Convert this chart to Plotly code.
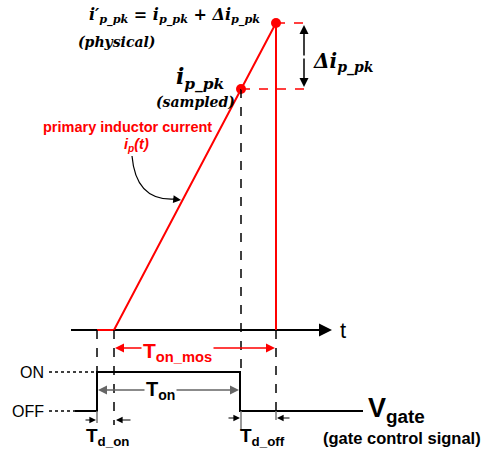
import plotly.graph_objects as go

# ---- data (time in diagram units, levels in diagram units) ----
t_axis = [71, 322]                    # time axis extent
axis_level = 122                      # current zero / time axis level
t_ip = [97, 114, 276, 276]            # primary inductor current waveform times
ip_vals = [122, 122, 429, 122]        # current values
t_sample = [241]                      # sampling instant
ip_sampled = [363]                    # sampled peak
t_peak = [276]
ip_peak = [429]                       # physical peak

t_gate = [75, 97, 97, 240, 240, 363]  # gate control signal
gate_vals = [41, 41, 80, 80, 41, 41]
ON_LEVEL, OFF_LEVEL = 80, 41
t_marks = [97, 114, 241, 276]         # Td_on start/end, Td_off start/end

RED = "#ff0000"
SANS = "Liberation Sans, Arial, sans-serif"
SERIF = "DejaVu Serif"

fig = go.Figure()

# inductor current
fig.add_trace(go.Scatter(x=t_ip, y=ip_vals, mode="lines",
                         line=dict(color=RED, width=2), hoverinfo="skip"))
# gate signal
fig.add_trace(go.Scatter(x=t_gate, y=gate_vals, mode="lines",
                         line=dict(color="black", width=2), hoverinfo="skip"))
# peak points
fig.add_trace(go.Scatter(x=t_sample + t_peak, y=ip_sampled + ip_peak, mode="markers",
                         marker=dict(color=RED, size=10), hoverinfo="skip"))

shapes = []
# time axis line
shapes.append(dict(type="line", x0=t_axis[0], x1=t_axis[1], y0=axis_level, y1=axis_level,
                   line=dict(color="black", width=2), layer="below"))
# dashed verticals
dash = dict(color="black", width=1.5, dash="dash")
shapes.append(dict(type="line", x0=t_marks[0], x1=t_marks[0], y0=axis_level, y1=ON_LEVEL, line=dash))
shapes.append(dict(type="line", x0=t_marks[0], x1=t_marks[0], y0=OFF_LEVEL, y1=29, line=dict(color="#777", width=1.5)))
shapes.append(dict(type="line", x0=t_marks[1], x1=t_marks[1], y0=axis_level, y1=27, line=dash))
shapes.append(dict(type="line", x0=t_marks[2], x1=t_marks[2], y0=ip_sampled[0], y1=ON_LEVEL, line=dash))
shapes.append(dict(type="line", x0=t_marks[2], x1=t_marks[2], y0=OFF_LEVEL, y1=22, line=dict(color="#777", width=1.5)))
shapes.append(dict(type="line", x0=t_marks[3], x1=t_marks[3], y0=axis_level, y1=OFF_LEVEL, line=dash))
shapes.append(dict(type="line", x0=t_marks[3], x1=t_marks[3], y0=OFF_LEVEL, y1=32, line=dict(color="#777", width=1.5)))
# red dashed horizontals for peaks
rdash = dict(color=RED, width=1.5, dash="dash")
shapes.append(dict(type="line", x0=t_peak[0], x1=309, y0=ip_peak[0], y1=ip_peak[0], line=rdash))
shapes.append(dict(type="line", x0=t_sample[0], x1=309, y0=ip_sampled[0], y1=ip_sampled[0], line=rdash))
# dotted ON/OFF guides
dot = dict(color="black", width=1.5, dash="dot")
shapes.append(dict(type="line", x0=49, x1=t_marks[0], y0=ON_LEVEL, y1=ON_LEVEL, line=dot))
shapes.append(dict(type="line", x0=49, x1=t_gate[0], y0=OFF_LEVEL, y1=OFF_LEVEL, line=dot))
# curved pointer
shapes.append(dict(type="path", path="M 132 296 Q 136 250 176 253",
                   line=dict(color="black", width=1.2)))

ann = []
def arrow(x, y, ax, ay, color="black", side="end", width=1.5, head=2, size=1.2):
    ann.append(dict(x=x, y=y, ax=ax, ay=ay, xref="x", yref="y", axref="x", ayref="y",
                    text="", showarrow=True, arrowhead=head, arrowsize=size,
                    arrowwidth=width, arrowcolor=color, arrowside=side))

def text(x, y, s, size=14, color="black", family=SANS, xanchor="center", bg=None):
    d = dict(x=x, y=y, xref="x", yref="y", text=s, showarrow=False,
             font=dict(size=size, color=color, family=family), xanchor=xanchor, yanchor="middle")
    if bg:
        d["bgcolor"] = bg
    ann.append(d)

# time axis arrowhead
arrow(332, axis_level, 312, axis_level, width=2, head=2, size=1.3)
text(343, axis_level, "t", size=22)

# delta i double arrow
arrow(304, ip_peak[0] - 2, 304, 395, width=1.5, head=2, size=1.2)
arrow(304, ip_sampled[0] + 2, 304, 395, width=1.5, head=2, size=1.2)
text(311, 390, "<b><i>Δi<sub>p_pk</sub></i></b>", size=20, family=SERIF, xanchor="left")

# formula labels
text(87, 436, "<b><i>i′<sub>p_pk</sub> = i<sub>p_pk</sub> + Δi<sub>p_pk</sub></i></b>",
     size=16, family=SERIF, xanchor="left")
text(116, 410, "<b><i>(physical)</i></b>", size=14, family=SERIF)
text(200, 374, "<b><i>i<sub>p_pk</sub></i></b>", size=22, family=SERIF)
text(195, 350, "<b><i>(sampled)</i></b>", size=14, family=SERIF)

# primary inductor current label
text(127, 325, "<b>primary inductor current</b>", size=14.5, color=RED)
text(136, 307, "<b><i>i<sub>p</sub>(t)</i></b>", size=14.5, color=RED)
arrow(181, 252, 172, 253, width=1.2, head=2, size=1.3)

# Ton_mos arrow
arrow(115, 104, 195, 104, color=RED, width=1.5, head=2, size=1.2)
arrow(275, 104, 195, 104, color=RED, width=1.5, head=2, size=1.2)
text(177, 100, "<b>T<sub>on_mos</sub></b>", size=21, color=RED, bg="white")

# Ton arrow
arrow(98, 62, 168, 62, color="#666", width=1.5, head=2, size=1.2)
arrow(239, 62, 168, 62, color="#666", width=1.5, head=2, size=1.2)
text(160, 62, "<b>T<sub>on</sub></b>", size=20, bg="white")

# Td_on / Td_off arrows
arrow(96, 32, 84, 32, width=1.2, head=2, size=1.1)
arrow(116, 32, 132, 32, width=1.2, head=2, size=1.1)
arrow(240, 34, 227, 34, width=1.2, head=2, size=1.1)
arrow(277, 34, 291, 34, width=1.2, head=2, size=1.1)
text(107, 15, "<b>T<sub>d_on</sub></b>", size=19)
text(262, 15, "<b>T<sub>d_off</sub></b>", size=19)

# ON / OFF / Vgate
text(32, ON_LEVEL, "ON", size=16)
text(28, OFF_LEVEL, "OFF", size=16)
text(366, 42, "<b>V<sub>gate</sub></b>", size=27, xanchor="left")
text(402, 14, "<b>(gate control signal)</b>", size=16.5)

fig.update_layout(
    width=494, height=452, margin=dict(l=0, r=0, t=0, b=0),
    paper_bgcolor="white", plot_bgcolor="white", showlegend=False,
    xaxis=dict(range=[0, 494], visible=False, fixedrange=True),
    yaxis=dict(range=[0, 452], visible=False, fixedrange=True),
    shapes=shapes, annotations=ann,
)
fig.write_html("out.html")
